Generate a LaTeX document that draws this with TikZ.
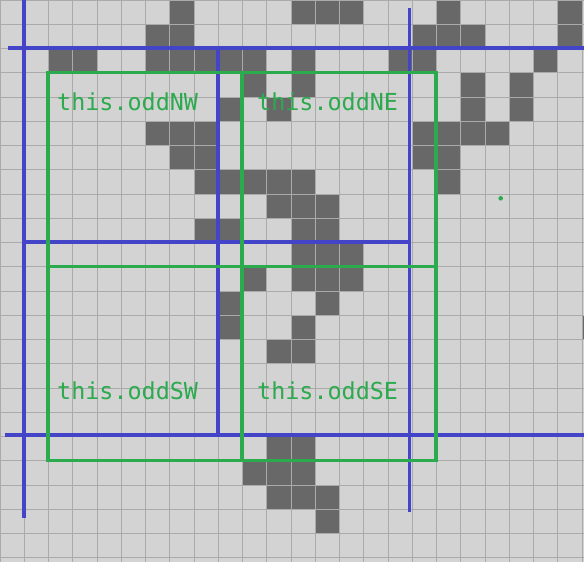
\documentclass[tikz,border=0pt]{standalone}
\usepackage{fontspec}
\newfontfamily\monofnt{DejaVu Sans Mono}
\definecolor{bgc}{RGB}{211,211,211}
\definecolor{gridc}{RGB}{170,170,170}
\definecolor{cellc}{RGB}{104,104,104}
\definecolor{bluec}{RGB}{68,68,200}
\definecolor{greenc}{RGB}{44,170,78}
\tikzset{
  bluel/.style={draw=bluec,line width=3.6pt},
  greenl/.style={draw=greenc,line width=3.4pt},
  lbl/.style={text=greenc,font=\monofnt\fontsize{23.4}{26}\selectfont,inner sep=0pt,anchor=base west},
}
\begin{document}
\begin{tikzpicture}[x=1pt,y=-1pt]
\pgfmathsetmacro{\s}{24.25}
\fill[bgc] (0,0) rectangle (584,562);
\useasboundingbox (0,0) rectangle (584,562);
% dark cells: row/cols
\foreach \r/\cols in {0/{7,12,13,14,18,23},1/{6,7,17,18,19,23},2/{2,3,6,7,8,9,10,12,16,17,22},3/{10,12,19,21},4/{9,11,19,21},5/{6,7,8,17,18,19,20},6/{7,8,17,18},7/{8,9,10,11,12,18},8/{11,12,13},9/{8,9,12,13},10/{12,13,14},11/{10,12,13,14},12/{9,13},13/{9,12,24},14/{11,12},18/{11,12},19/{10,11,12},20/{11,12,13},21/{13}}{
  \foreach \c in \cols {
    \fill[cellc] ({\c*\s},{\r*\s}) rectangle ({(\c+1)*\s},{(\r+1)*\s});
  }
}
% grid
\foreach \i in {0,...,24} {\draw[gridc,line width=1pt] ({\i*\s},0) -- ({\i*\s},562);}
\foreach \j in {0,...,23} {\draw[gridc,line width=1pt] (0,{\j*\s}) -- (584,{\j*\s});}
% blue lines
\draw[bluel] (24,0) -- (24,518);
\draw[bluel] (8,48) -- (584,48);
\draw[bluel] (409.5,8) -- (409.5,512);
\draw[bluel] (5,435) -- (584,435);
\draw[bluel] (218,48) -- (218,436);
\draw[bluel] (24,242) -- (409.5,242);
% green quadrants
\draw[greenl] (48,72.5) rectangle (242,266.5);
\draw[greenl] (242,72.5) rectangle (436,266.5);
\draw[greenl] (48,266.5) rectangle (242,460.5);
\draw[greenl] (242,266.5) rectangle (436,460.5);
\fill[greenc] (500.7,198.3) circle (2.3pt);
% labels
\node[lbl] (nw) at (57,110) {this.oddNW};
\node[lbl] (ne) at (257,110) {this.oddNE};
\node[lbl] (sw) at (57,399.5) {this.oddSW};
\node[lbl] (se) at (257,399.5) {this.oddSE};
\end{tikzpicture}
\end{document}
